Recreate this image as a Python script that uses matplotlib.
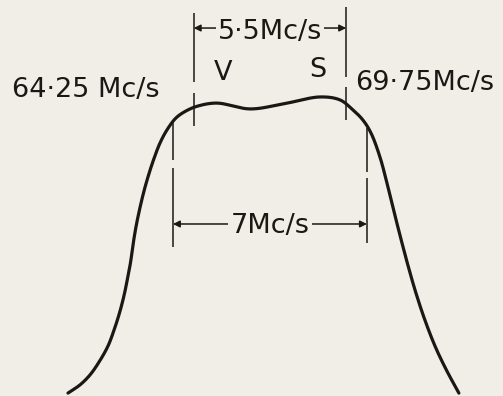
import numpy as np
import matplotlib
matplotlib.use("Agg")
import matplotlib.pyplot as plt

# response curve, frequency in Mc/s vs relative response
freq = [59.713, 60.146, 60.506, 60.831, 61.156, 61.390, 61.571, 61.733, 61.859,
        61.968, 62.058, 62.166, 62.292, 62.437, 62.599, 62.797, 63.032, 63.284,
        63.609, 63.970, 64.403, 65.088, 66.278, 67.469, 68.804, 69.525, 69.958,
        70.355, 70.644, 70.968, 71.221, 71.437, 71.672, 71.996, 72.267, 72.592,
        72.970, 73.367, 73.818]
resp = [0.010, 0.038, 0.072, 0.116, 0.171, 0.230, 0.284, 0.343, 0.401,
        0.456, 0.517, 0.579, 0.637, 0.695, 0.750, 0.808, 0.866, 0.911,
        0.952, 0.976, 0.993, 1.003, 0.983, 1.000, 1.024, 1.014, 0.983,
        0.945, 0.901, 0.819, 0.730, 0.647, 0.558, 0.442, 0.353, 0.260,
        0.168, 0.089, 0.010]

vision = 64.25       # V carrier
sound = 69.75        # S carrier
channel = 7.0        # channel width
centre = 67.0

bg = '#f1eee8'
ink = '#1b1715'

XLIM = (57.26, 75.41)
YLIM = (0, 1.356)
W, H = 5.03, 3.96


def smooth(x, y, n=30):
    # centripetal catmull-rom, worked out in screen units so the
    # steep flanks and the flat top get the same treatment
    sc = np.array([W * 100 / (XLIM[1] - XLIM[0]), H * 100 / (YLIM[1] - YLIM[0])])
    pts = np.column_stack([x, y]) * sc
    p = np.vstack([2 * pts[0] - pts[1], pts, 2 * pts[-1] - pts[-2]])
    out = []
    for i in range(1, len(p) - 2):
        p0, p1, p2, p3 = p[i - 1], p[i], p[i + 1], p[i + 2]
        t0 = 0.0
        t1 = t0 + np.linalg.norm(p1 - p0) ** 0.5
        t2 = t1 + np.linalg.norm(p2 - p1) ** 0.5
        t3 = t2 + np.linalg.norm(p3 - p2) ** 0.5
        t = np.linspace(t1, t2, n, endpoint=False)[:, None]
        a1 = (t1 - t) / (t1 - t0) * p0 + (t - t0) / (t1 - t0) * p1
        a2 = (t2 - t) / (t2 - t1) * p1 + (t - t1) / (t2 - t1) * p2
        a3 = (t3 - t) / (t3 - t2) * p2 + (t - t2) / (t3 - t2) * p3
        b1 = (t2 - t) / (t2 - t0) * a1 + (t - t0) / (t2 - t0) * a2
        b2 = (t3 - t) / (t3 - t1) * a2 + (t - t1) / (t3 - t1) * a3
        out.append((t2 - t) / (t2 - t1) * b1 + (t - t1) / (t2 - t1) * b2)
    out.append(pts[-1:])
    return np.vstack(out) / sc


fig = plt.figure(figsize=(W, H), dpi=100, facecolor=bg)
ax = fig.add_axes([0, 0, 1, 1])
ax.set_facecolor(bg)
ax.set_xlim(*XLIM)
ax.set_ylim(*YLIM)
ax.axis('off')

curve = smooth(freq, resp)
ax.plot(curve[:, 0], curve[:, 1], color=ink, lw=2.3, solid_capstyle='round')

# carrier markers (drawn in two pieces each)
ax.vlines([vision] * 2, [0.925, 1.075], [1.038, 1.312], color=ink, lw=1.1)
ax.vlines([sound] * 2, [0.945, 1.092], [1.058, 1.332], color=ink, lw=1.1)

# channel edges
lo, hi = centre - channel / 2, centre + channel / 2
ax.vlines([lo] * 2, [0.510, 0.808], [0.781, 0.935], color=ink, lw=1.1)
ax.vlines([hi] * 2, [0.524, 0.767], [0.747, 0.918], color=ink, lw=1.1)

arrow = dict(arrowstyle='<|-|>', color=ink, lw=1.1, shrinkA=0, shrinkB=0,
             mutation_scale=10)
ax.annotate('', xy=(vision, 1.26), xytext=(sound, 1.26), arrowprops=arrow)
ax.annotate('', xy=(lo, 0.589), xytext=(hi, 0.589), arrowprops=arrow)

fs = 19.5
box = dict(facecolor=bg, edgecolor='none', pad=1.5)
ax.text((vision + sound) / 2, 1.223, f'{sound - vision:g}'.replace('.', '·') + 'Mc/s',
        ha='center', va='baseline', fontsize=fs, color=ink, bbox=box)
ax.text(centre, 0.558, f'{channel:g}Mc/s', ha='center', va='baseline',
        fontsize=fs, color=ink, bbox=box)

ax.text(57.69, 1.024, f'{vision:.2f}'.replace('.', '·') + ' Mc/s',
        ha='left', va='baseline', fontsize=fs, color=ink)
ax.text(70.07, 1.048, f'{sound:.2f}'.replace('.', '·') + 'Mc/s',
        ha='left', va='baseline', fontsize=fs, color=ink)
ax.text(65.30, 1.082, 'V', ha='center', va='baseline', fontsize=fs, color=ink)
ax.text(68.73, 1.092, 'S', ha='center', va='baseline', fontsize=fs, color=ink)

fig.savefig('out.png', dpi=100, facecolor=bg)
